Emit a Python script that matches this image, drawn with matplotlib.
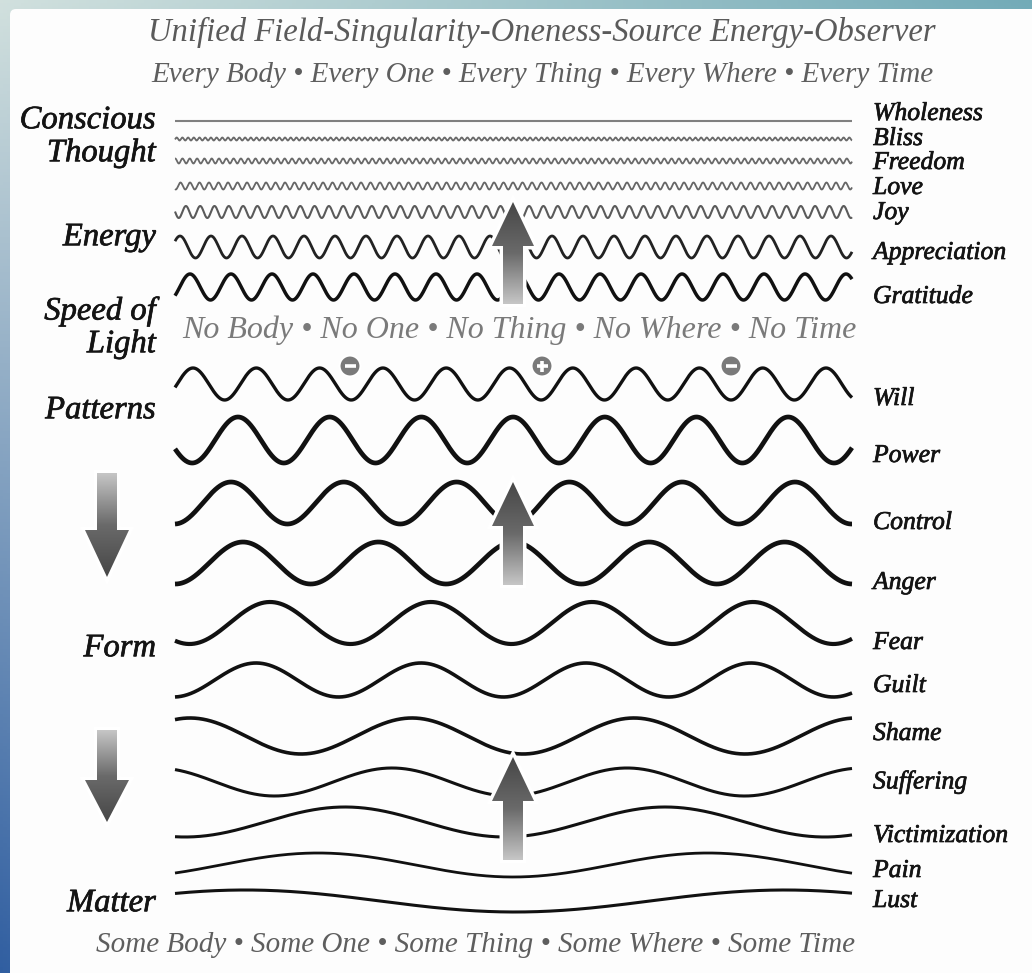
import numpy as np
import matplotlib
matplotlib.use("Agg")
import matplotlib.pyplot as plt
import matplotlib.patheffects as pe
from matplotlib.patches import Polygon, Circle, FancyBboxPatch
from matplotlib.colors import LinearSegmentedColormap

W, H = 1032, 973

# --- wave ladder, from the fastest (top) to the slowest (bottom) ---
states = ["Wholeness", "Bliss", "Freedom", "Love", "Joy", "Appreciation", "Gratitude",
          "Will", "Power", "Control", "Anger", "Fear", "Guilt", "Shame",
          "Suffering", "Victimization", "Pain", "Lust"]
centers = [121, 139, 161, 186, 212, 247, 287, 384, 440, 503, 563, 623, 680, 736, 782, 822, 865, 901]
amps = [0, 1.5, 2.5, 3.5, 6, 11, 13, 16, 23, 21, 21, 21, 17, 18, 14, 15, 12, 11]
periods = [1, 5.7, 7.3, 9.5, 14.3, 31, 41, 63.3, 91.7, 112.8, 135.4, 161, 165, 222, 235, 320, 390, 540]
crests = [0, 0, 0, 0, 0, 180, 190, 193, 238, 231, 243, 270, 256, 190, 392, 345, 318, 245]
label_y = [114, 139, 163, 188, 213, 253, 297, 399, 456, 523, 583, 643, 686, 734, 782, 836, 871, 901]

levels = [("Conscious", 120), ("Thought", 153), ("Energy", 237), ("Speed of", 311),
          ("Light", 344), ("Patterns", 410), ("Form", 648), ("Matter", 903)]
charges = ["-", "+", "-"]
charge_x = [350, 542, 731]

line_w = [1.5, 1.3, 1.3, 1.3, 1.5, 2.0, 2.5, 2.4, 3.4, 3.4, 3.4, 3.0, 2.6, 2.6, 2.2, 2.2, 2.0, 2.2]
line_c = ["#808080", "#6a6a6a", "#6a6a6a", "#666666", "#5a5a5a", "#222222"] + ["#111111"] * 12

SERIF = ["Liberation Serif", "DejaVu Serif"]
INK = "#141414"
X0, X1 = 175, 852

fig = plt.figure(figsize=(W / 100, H / 100), dpi=100)
ax = fig.add_axes([0, 0, 1, 1])
ax.set_xlim(0, W)
ax.set_ylim(H, 0)
ax.axis("off")

# frame: teal along the top, teal to blue down the left side
gy, gx = np.mgrid[0:1:300j, 0:1:300j]
tl, tr = np.array([0.82, 0.88, 0.87]), np.array([0.45, 0.67, 0.72])
bl, br = np.array([0.19, 0.37, 0.63]), np.array([0.93, 0.95, 0.96])
bg = ((1 - gx) * (1 - gy))[..., None] * tl + (gx * (1 - gy))[..., None] * tr \
    + ((1 - gx) * gy)[..., None] * bl + (gx * gy)[..., None] * br
ax.imshow(bg, extent=(0, W, H, 0), aspect="auto", zorder=0)
ax.add_patch(FancyBboxPatch((10, 9), W, H, boxstyle="round,pad=0,rounding_size=6",
                            fc="#fdfdfd", ec="none", zorder=1))

xs = np.linspace(X0, X1, 4000)
for c, a, p, x0, lw, col in zip(centers, amps, periods, crests, line_w, line_c):
    ax.plot(xs, c - a * np.cos(2 * np.pi * (xs - x0) / p), color=col, lw=lw,
            solid_capstyle="butt", zorder=3)

ramp = LinearSegmentedColormap.from_list("ramp", ["#c6c6c6", "#6a6a6a", "#474747"])


def arrow(xc, y_tail, y_tip, head_len=44, head_w=21, shaft_w=10):
    s = np.sign(y_tip - y_tail)
    yb = y_tip - s * head_len
    pts = [(xc - shaft_w, y_tail), (xc + shaft_w, y_tail), (xc + shaft_w, yb), (xc + head_w, yb),
           (xc, y_tip), (xc - head_w, yb), (xc - shaft_w, yb)]
    ax.add_patch(Polygon(pts, closed=True, fc="white", ec="white", lw=5, zorder=5))
    clip = Polygon(pts, closed=True, fc="none", ec="none", zorder=6)
    ax.add_patch(clip)
    t = np.linspace(0, 1, 200).reshape(-1, 1)
    if y_tip < y_tail:
        t = t[::-1]
    im = ax.imshow(t, cmap=ramp, vmin=0, vmax=1, aspect="auto", zorder=6,
                   extent=(xc - head_w, xc + head_w, max(y_tip, y_tail), min(y_tip, y_tail)))
    im.set_clip_path(clip)


arrow(513, 304, 202)
arrow(513, 585, 482)
arrow(513, 860, 757)
arrow(107, 473, 577, head_len=47, head_w=22)
arrow(107, 730, 822, head_len=42, head_w=22)

for cx, q in zip(charge_x, charges):
    ax.add_patch(Circle((cx, 366), 10.5, fc="#7a7a7a", ec="white", lw=1.5, zorder=7))
    ax.plot([cx - 5.5, cx + 5.5], [366, 366], color="white", lw=2.6, zorder=8, solid_capstyle="butt")
    if q == "+":
        ax.plot([cx, cx], [360.5, 371.5], color="white", lw=2.6, zorder=8, solid_capstyle="butt")

# a thin stroke gives the regular italic a little more weight, like the print
heavy = [pe.withStroke(linewidth=0.5, foreground=INK)]
for name, y in zip(states, label_y):
    ax.text(873, y, name, family=SERIF, style="italic", fontsize=18.5, color=INK,
            ha="left", va="center", zorder=4, path_effects=heavy)
for name, y in levels:
    ax.text(156, y, name, family=SERIF, style="italic", fontsize=23.5, color=INK,
            ha="right", va="center", zorder=4, path_effects=heavy)

ax.text(542, 32, "Unified Field-Singularity-Oneness-Source Energy-Observer", family=SERIF,
        style="italic", fontsize=23.5, color="#5a5a5a", ha="center", va="center")
ax.text(542, 75, "Every Body \u2022 Every One \u2022 Every Thing \u2022 Every Where \u2022 Every Time",
        family=SERIF, style="italic", fontsize=21, color="#5e5e5e", ha="center", va="center")
ax.text(519, 330, "No Body \u2022 No One \u2022 No Thing \u2022 No Where \u2022 No Time",
        family=SERIF, style="italic", fontsize=23, color="#7a7a7a", ha="center", va="center", zorder=4)
ax.text(476, 945, "Some Body \u2022 Some One \u2022 Some Thing \u2022 Some Where \u2022 Some Time",
        family=SERIF, style="italic", fontsize=21, color="#5e5e5e", ha="center", va="center")

fig.savefig("out.png", dpi=100)
